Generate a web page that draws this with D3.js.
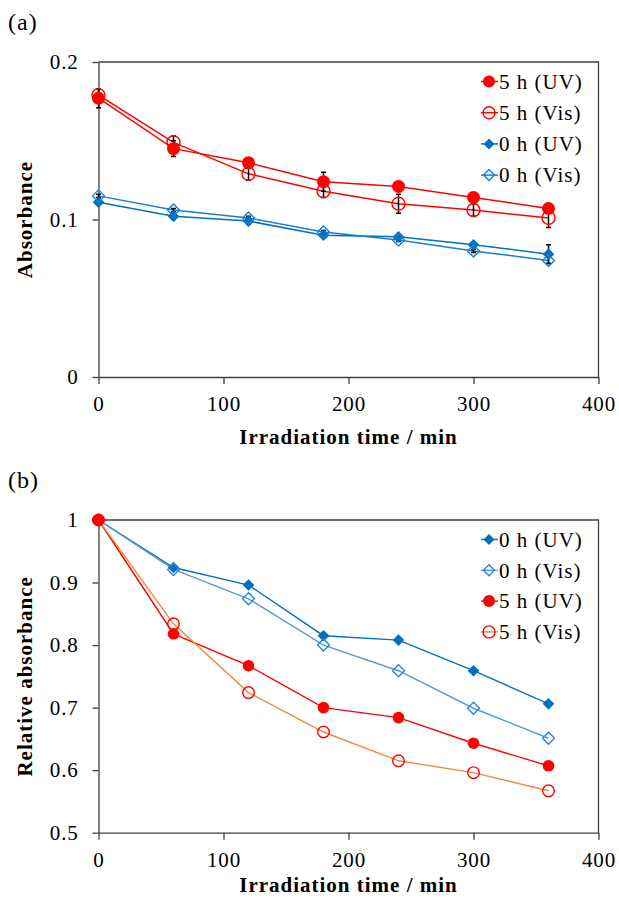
<!DOCTYPE html>
<html>
<head>
<meta charset="utf-8">
<script src="https://cdn.jsdelivr.net/npm/d3@7"></script>
<style>
  html, body { margin: 0; padding: 0; background: #fff; }
  svg { display: block; }
  text { font-family: "Liberation Serif", "Times New Roman", serif; fill: #000; }
</style>
</head>
<body>
<svg id="chart" width="619" height="901"></svg>
<script>
// Irradiation times (min)
const times = [0, 60, 120, 180, 240, 300, 360];

// Panel (a): absorbance
const absUV5h  = [0.177, 0.145, 0.136, 0.124, 0.121, 0.114, 0.107];
const absVis5h = [0.179, 0.149, 0.129, 0.118, 0.110, 0.106, 0.101];
const absUV0h  = [0.111, 0.102, 0.099, 0.090, 0.089, 0.084, 0.078];
const absVis0h = [0.115, 0.106, 0.101, 0.092, 0.087, 0.080, 0.074];

// Panel (a): standard deviations
const errUV5h  = [0.006, 0.005, 0.003, 0.006, 0.003, 0.003, 0.003];
const errVis5h = [0.004, 0.004, 0.004, 0.004, 0.006, 0.004, 0.006];
const errUV0h  = [0.001, 0.001, 0.002, 0.001, 0.001, 0.001, 0.006];
const errVis0h = [0.001, 0.001, 0.001, 0.001, 0.001, 0.001, 0.002];

// Panel (b): relative absorbance
const relUV0h  = [1, 0.924, 0.896, 0.815, 0.808, 0.759, 0.706];
const relVis0h = [1, 0.921, 0.874, 0.800, 0.759, 0.699, 0.651];
const relUV5h  = [1, 0.818, 0.767, 0.700, 0.684, 0.643, 0.607];
const relVis5h = [1, 0.834, 0.724, 0.661, 0.615, 0.596, 0.567];

// Axis ticks and labels
const xTicks  = [0, 100, 200, 300, 400];
const yTicksA = [0, 0.1, 0.2];
const yTicksB = [0.5, 0.6, 0.7, 0.8, 0.9, 1];
const xTitle  = "Irradiation time / min";
const yTitleA = "Absorbance";
const yTitleB = "Relative absorbance";
const labelUV5h = "5 h (UV)", labelVis5h = "5 h (Vis)";
const labelUV0h = "0 h (UV)", labelVis0h = "0 h (Vis)";

const svg = d3.select("#chart");
const axisColor = "#404040";
const red = "#ff0000", blue = "#0070c0";

function diamondPath(h) {
  return `M0,${-h}L${h},0L0,${h}L${-h},0Z`;
}

function drawMarker(g, kind, style, cx, cy) {
  if (kind === "circle") {
    g.append("circle").attr("cx", cx).attr("cy", cy).attr("r", style.size)
      .attr("fill", style.filled ? style.color : "none")
      .attr("stroke", style.color).attr("stroke-width", style.filled ? 0 : 1.4);
  } else {
    g.append("path").attr("d", diamondPath(style.size))
      .attr("transform", `translate(${cx},${cy})`)
      .attr("fill", style.filled ? style.color : "none")
      .attr("stroke", style.color).attr("stroke-width", style.filled ? 0 : 1.4);
  }
}

function drawPanel(p) {
  const g = svg.append("g");
  const x = d3.scaleLinear().domain([0, 400]).range([98.5, 598.5]);
  const y = d3.scaleLinear().domain(p.yDomain).range(p.yRange);

  // Frame: top and right
  g.append("path")
    .attr("d", `M${x(0)},${y.range()[1]}H${x(400)}V${y.range()[0]}`)
    .attr("fill", "none").attr("stroke", axisColor).attr("stroke-width", 1.3);

  // Axes
  const ax = g.append("g").attr("transform", `translate(0,${y.range()[0]})`)
    .call(d3.axisBottom(x).tickValues(xTicks).tickSize(7).tickSizeOuter(0).tickPadding(12).tickFormat(d3.format("")));
  const ay = g.append("g").attr("transform", `translate(${x(0)},0)`)
    .call(d3.axisLeft(y).tickValues(p.yTicks).tickSize(6).tickSizeOuter(0).tickPadding(14).tickFormat(d3.format("")));
  [ax, ay].forEach(a => {
    a.selectAll("path, line").attr("stroke", axisColor).attr("stroke-width", 1.3);
    a.selectAll("text").attr("font-size", 21).attr("letter-spacing", 0.8)
      .attr("font-family", "Liberation Serif").attr("fill", "#000");
  });

  // Titles
  g.append("text").attr("x", x(200)).attr("y", p.xTitleY).attr("dy", "0.35em")
    .attr("text-anchor", "middle").attr("font-size", 21).attr("letter-spacing", 1)
    .attr("font-weight", "bold").text(xTitle);
  g.append("text").attr("transform", `translate(25,${(y.range()[0] + y.range()[1]) / 2}) rotate(-90)`)
    .attr("dy", "0.35em").attr("text-anchor", "middle").attr("font-size", 21).attr("letter-spacing", 1)
    .attr("font-weight", "bold").text(p.yTitle);
  g.append("text").attr("x", 8).attr("y", p.tagY).attr("font-size", 24).attr("letter-spacing", 1).text(p.tag);

  // Series lines
  p.series.forEach(s => {
    const line = d3.line().x((d, i) => x(times[i])).y(d => y(d));
    g.append("path").datum(s.values).attr("d", line)
      .attr("fill", "none").attr("stroke", s.lineColor).attr("stroke-width", s.lineWidth);
  });
  // Error bars (beneath the markers)
  p.series.forEach(s => {
    if (!s.err) return;
    s.values.forEach((v, i) => {
      const cx = x(times[i]), y1 = y(v + s.err[i]), y0 = y(v - s.err[i]);
      g.append("path")
        .attr("d", `M${cx},${y0}V${y1}M${cx - 2.5},${y0}H${cx + 2.5}M${cx - 2.5},${y1}H${cx + 2.5}`)
        .attr("fill", "none").attr("stroke", "#000").attr("stroke-width", 1.5);
    });
  });
  // Markers
  p.series.forEach(s => {
    s.values.forEach((v, i) => drawMarker(g, s.kind, s, x(times[i]), y(v)));
  });

  // Legend
  p.series.forEach((s, k) => {
    const ly = p.legendY + k * p.legendGap;
    g.append("line").attr("x1", 481).attr("x2", 498).attr("y1", ly).attr("y2", ly)
      .attr("stroke", s.lineColor).attr("stroke-width", s.lineWidth);
    drawMarker(g, s.kind, Object.assign({}, s, { size: s.kind === "circle" ? 6 : 5.5 }), 489, ly);
    g.append("text").attr("x", 499).attr("y", ly).attr("dy", "0.35em").attr("font-size", 21)
      .attr("letter-spacing", 1).text(s.label);
  });
}

drawPanel({
  tag: "(a)", tagY: 30, xTitleY: 437,
  yDomain: [0, 0.2], yRange: [377, 62], yTicks: yTicksA, yTitle: yTitleA,
  legendY: 81.5, legendGap: 31.2,
  series: [
    { label: labelUV5h,  values: absUV5h,  err: errUV5h,  kind: "circle",  filled: true,  color: red,  lineColor: red,  lineWidth: 1.5, size: 6.5 },
    { label: labelVis5h, values: absVis5h, err: errVis5h, kind: "circle",  filled: false, color: red,  lineColor: red,  lineWidth: 1.5, size: 6.5 },
    { label: labelUV0h,  values: absUV0h,  err: errUV0h,  kind: "diamond", filled: true,  color: blue, lineColor: blue, lineWidth: 1.5, size: 5.8 },
    { label: labelVis0h, values: absVis0h, err: errVis0h, kind: "diamond", filled: false, color: "#1a7fd0", lineColor: "#1a7fd0", lineWidth: 1.5, size: 6 }
  ]
});

drawPanel({
  tag: "(b)", tagY: 488, xTitleY: 885,
  yDomain: [0.5, 1], yRange: [832.7, 520], yTicks: yTicksB, yTitle: yTitleB,
  legendY: 539.5, legendGap: 30.8,
  series: [
    { label: labelUV0h,  values: relUV0h,  kind: "diamond", filled: true,  color: blue,      lineColor: blue,      lineWidth: 1.4, size: 5.8 },
    { label: labelVis0h, values: relVis0h, kind: "diamond", filled: false, color: "#2a86d6", lineColor: "#5b9bd5", lineWidth: 1.4, size: 6 },
    { label: labelUV5h,  values: relUV5h,  kind: "circle",  filled: true,  color: red,       lineColor: red,       lineWidth: 1.4, size: 5.8 },
    { label: labelVis5h, values: relVis5h, kind: "circle",  filled: false, color: red,       lineColor: "#f08a3c", lineWidth: 1.4, size: 5.8 }
  ]
});
</script>
</body>
</html>
